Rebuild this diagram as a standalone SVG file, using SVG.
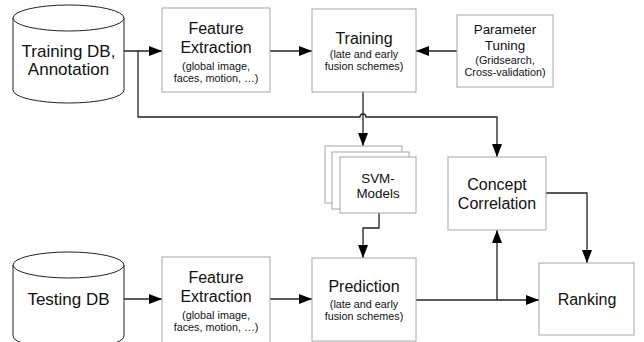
<svg xmlns="http://www.w3.org/2000/svg" width="644" height="342" viewBox="0 0 644 342">
<style>
.box{fill:#fff;stroke:#a6a6a6;stroke-width:1}
.cyl{fill:#fff;stroke:#222;stroke-width:1}
.t{font-family:"Liberation Sans",Arial,sans-serif;fill:#111;text-anchor:middle}
.m{font-size:16px}
.l{font-size:17px}
.s{font-size:10.8px}
.n{font-size:13.4px}
.c{fill:none;stroke:#222;stroke-width:1.3}
</style>
<defs>
<marker id="ah" markerUnits="userSpaceOnUse" viewBox="0 0 13 10" refX="13" refY="5" markerWidth="13" markerHeight="10" orient="auto">
<path d="M0,0 L13,5 L0,10 z" fill="#000"/>
</marker>
</defs>
<rect width="644" height="342" fill="#fff"/>
<g id="connectors">
<path class="c" d="M124,51 H162" marker-end="url(#ah)"/>
<path class="c" d="M138,51 V117 H360 a3,3 0 0 1 6,0 H497 V157" marker-end="url(#ah)"/>
<path class="c" d="M270,51 H312" marker-end="url(#ah)"/>
<path class="c" d="M457,51 H416" marker-end="url(#ah)"/>
<path class="c" d="M363,92 V146" marker-end="url(#ah)"/>
<path class="c" d="M379,213 V228 H363 V258" marker-end="url(#ah)"/>
<path class="c" d="M416,300 H539" marker-end="url(#ah)"/>
<path class="c" d="M497,300 V230" marker-end="url(#ah)"/>
<path class="c" d="M546,193 H587 V263" marker-end="url(#ah)"/>
<path class="c" d="M124,299 H162" marker-end="url(#ah)"/>
<path class="c" d="M270,299 H312" marker-end="url(#ah)"/>
</g>
<g id="trainingdb">
<path class="cyl" d="M13,18 V90 A55.5,13 0 0 0 124,90 V18"/>
<ellipse class="cyl" cx="68.5" cy="18" rx="55.5" ry="13"/>
<text class="t l" x="68.5" y="57">Training DB,</text>
<text class="t l" x="68.5" y="75">Annotation</text>
</g>
<g id="fe1">
<rect class="box" x="162" y="8" width="108" height="84"/>
<text class="t m" x="216" y="34">Feature</text>
<text class="t m" x="216" y="53">Extraction</text>
<text class="t s" x="216" y="70">(global image,</text>
<text class="t s" x="216" y="82">faces, motion, …)</text>
</g>
<g id="training">
<rect class="box" x="312" y="9" width="104" height="83"/>
<text class="t m" x="364" y="44">Training</text>
<text class="t s" x="364" y="58">(late and early</text>
<text class="t s" x="364" y="70">fusion schemes)</text>
</g>
<g id="paramtuning">
<rect class="box" x="457" y="15" width="96" height="72"/>
<text class="t n" x="505" y="34">Parameter</text>
<text class="t n" x="505" y="50">Tuning</text>
<text class="t s" x="505" y="64">(Gridsearch,</text>
<text class="t s" x="505" y="76">Cross-validation)</text>
</g>
<g id="svm">
<rect class="box" x="325" y="146" width="77" height="57"/>
<rect class="box" x="332" y="152" width="77" height="57"/>
<rect class="box" x="340" y="157" width="76" height="56"/>
<text class="t n" x="378" y="183">SVM-</text>
<text class="t n" x="378" y="198">Models</text>
</g>
<g id="concept">
<rect class="box" x="448" y="157" width="98" height="73"/>
<text class="t m" x="497" y="190">Concept</text>
<text class="t m" x="497" y="209">Correlation</text>
</g>
<g id="testingdb">
<path class="cyl" d="M13,265 V336 A55.5,13 0 0 0 124,336 V265"/>
<ellipse class="cyl" cx="68.5" cy="265" rx="55.5" ry="13"/>
<text class="t l" x="68.5" y="305">Testing DB</text>
</g>
<g id="fe2">
<rect class="box" x="162" y="257" width="108" height="90"/>
<text class="t m" x="216" y="283">Feature</text>
<text class="t m" x="216" y="302">Extraction</text>
<text class="t s" x="216" y="319">(global image,</text>
<text class="t s" x="216" y="331">faces, motion, …)</text>
</g>
<g id="prediction">
<rect class="box" x="312" y="258" width="104" height="83"/>
<text class="t m" x="364" y="292">Prediction</text>
<text class="t s" x="364" y="308">(late and early</text>
<text class="t s" x="364" y="320">fusion schemes)</text>
</g>
<g id="ranking">
<rect class="box" x="539" y="263" width="95" height="72"/>
<text class="t m" x="587" y="305">Ranking</text>
</g>
</svg>
